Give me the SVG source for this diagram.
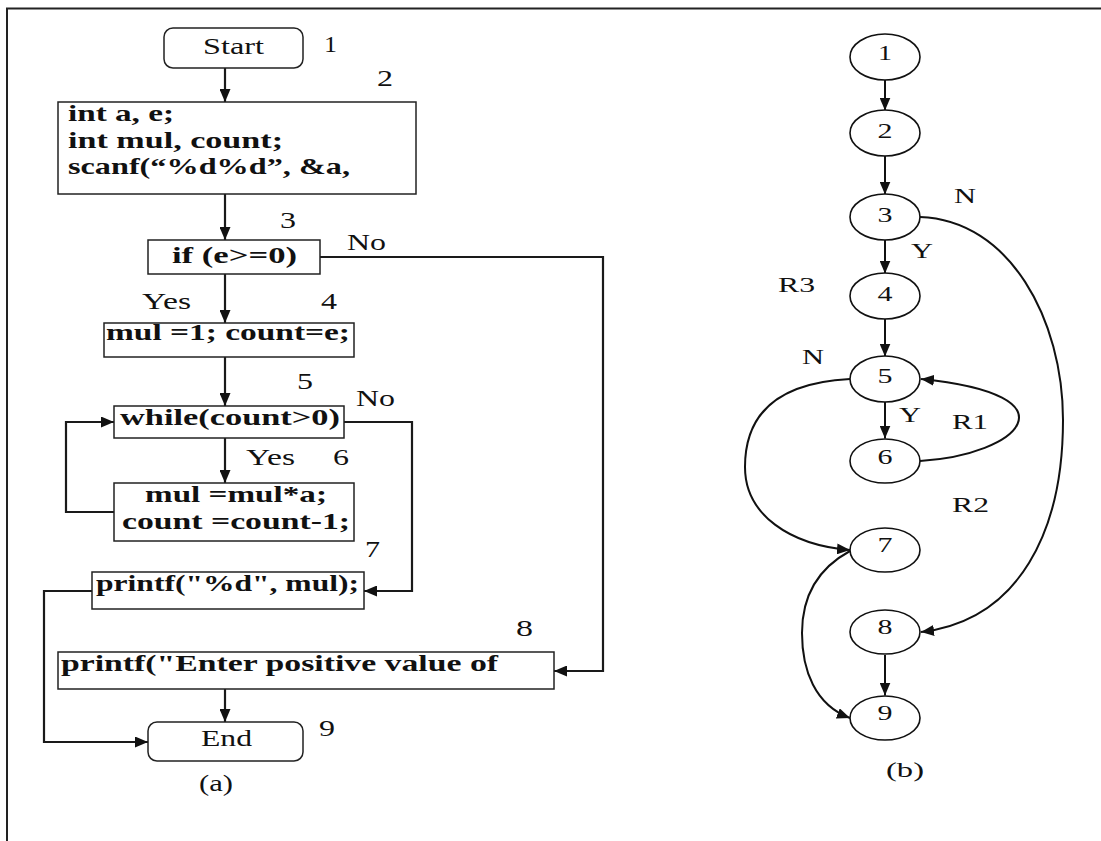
<svg xmlns="http://www.w3.org/2000/svg" width="1101" height="841" viewBox="0 0 1101 841">
<defs>
<style>
.bx{fill:#fff;stroke:#222;stroke-width:1.5}
.el{fill:#fff;stroke:#111;stroke-width:1.6}
.ln{fill:none;stroke:#1a1a1a;stroke-width:2.2}
.cv{fill:none;stroke:#111;stroke-width:2}
.t{font-family:"Liberation Serif","Times New Roman",serif;font-size:22.5px;fill:#111}
.b{font-family:"Liberation Serif","Times New Roman",serif;font-size:24px;font-weight:bold;fill:#111}
.n{font-family:"Liberation Serif","Times New Roman",serif;font-size:22px;fill:#111}
.s{font-family:"Liberation Serif","Times New Roman",serif;font-size:20px;fill:#111}
</style>
<marker id="ah" viewBox="0 0 13 11" refX="13" refY="5.5" markerWidth="13" markerHeight="11" markerUnits="userSpaceOnUse" orient="auto">
<path d="M0,0 L13,5.5 L0,11 z" fill="#111"/>
</marker>
</defs>
<rect width="1101" height="841" fill="#fff"/>
<g id="frame">
<path d="M7,841 V8.5 H1101" fill="none" stroke="#222" stroke-width="2"/>
</g>

<g id="connectors-a">
<path class="ln" d="M225,68 V102" marker-end="url(#ah)"/>
<path class="ln" d="M225,194 V240" marker-end="url(#ah)"/>
<path class="ln" d="M225,274 V323" marker-end="url(#ah)"/>
<path class="ln" d="M320,257 H603 V671 H554" marker-end="url(#ah)"/>
<path class="ln" d="M225,357 V406" marker-end="url(#ah)"/>
<path class="ln" d="M225,438 V483" marker-end="url(#ah)"/>
<path class="ln" d="M344,422 H412 V591 H364" marker-end="url(#ah)"/>
<path class="ln" d="M114,512 H66 V422 H114" marker-end="url(#ah)"/>
<path class="ln" d="M92,591 H44 V742 H148" marker-end="url(#ah)"/>
<path class="ln" d="M225,689 V722" marker-end="url(#ah)"/>
</g>

<g id="node-start">
<rect class="bx" x="164" y="28" width="139" height="40" rx="9"/>
<text class="t" x="203" y="54" textLength="61" lengthAdjust="spacingAndGlyphs">Start</text>
<text class="t" x="324" y="52" textLength="13" lengthAdjust="spacingAndGlyphs">1</text>
</g>
<g id="node-2">
<rect class="bx" x="58" y="102" width="358" height="92"/>
<text class="t" x="377" y="86" textLength="16" lengthAdjust="spacingAndGlyphs">2</text>
<text class="b" x="68" y="121" textLength="106" lengthAdjust="spacingAndGlyphs">int a, e;</text>
<text class="b" x="68" y="148" textLength="215" lengthAdjust="spacingAndGlyphs">int mul, count;</text>
<text class="b" x="68" y="174" textLength="282" lengthAdjust="spacingAndGlyphs">scanf(“%d%d”, &amp;a,</text>
</g>
<g id="node-3">
<rect class="bx" x="148" y="240" width="172" height="34"/>
<text class="t" x="280" y="228" textLength="16" lengthAdjust="spacingAndGlyphs">3</text>
<text class="b" x="172" y="263" textLength="125" lengthAdjust="spacingAndGlyphs">if (e&gt;=0)</text>
<text class="t" x="347" y="250" textLength="39" lengthAdjust="spacingAndGlyphs">No</text>
<text class="t" x="142" y="309" textLength="49" lengthAdjust="spacingAndGlyphs">Yes</text>
</g>
<g id="node-4">
<rect class="bx" x="104" y="323" width="250" height="34"/>
<text class="t" x="321" y="309" textLength="16" lengthAdjust="spacingAndGlyphs">4</text>
<text class="b" x="106" y="340" textLength="244" lengthAdjust="spacingAndGlyphs">mul =1; count=e;</text>
</g>
<g id="node-5">
<rect class="bx" x="114" y="406" width="230" height="32"/>
<text class="t" x="297" y="389" textLength="16" lengthAdjust="spacingAndGlyphs">5</text>
<text class="b" x="120" y="425" textLength="220" lengthAdjust="spacingAndGlyphs">while(count&gt;0)</text>
<text class="t" x="356" y="406" textLength="39" lengthAdjust="spacingAndGlyphs">No</text>
<text class="t" x="246" y="465" textLength="49" lengthAdjust="spacingAndGlyphs">Yes</text>
</g>
<g id="node-6">
<rect class="bx" x="114" y="483" width="240" height="58"/>
<text class="t" x="333" y="465" textLength="16" lengthAdjust="spacingAndGlyphs">6</text>
<text class="b" x="145" y="502" textLength="182" lengthAdjust="spacingAndGlyphs">mul =mul*a;</text>
<text class="b" x="122" y="529" textLength="228" lengthAdjust="spacingAndGlyphs">count =count-1;</text>
</g>
<g id="node-7">
<rect class="bx" x="92" y="572" width="272" height="37"/>
<text class="t" x="365" y="557" textLength="15" lengthAdjust="spacingAndGlyphs">7</text>
<text class="b" x="96" y="591" textLength="263" lengthAdjust="spacingAndGlyphs">printf("%d", mul);</text>
</g>
<g id="node-8">
<rect class="bx" x="58" y="652" width="496" height="37"/>
<text class="t" x="516" y="636" textLength="17" lengthAdjust="spacingAndGlyphs">8</text>
<text class="b" x="61" y="671" textLength="437" lengthAdjust="spacingAndGlyphs">printf("Enter positive value of</text>
</g>
<g id="node-end">
<rect class="bx" x="148" y="722" width="155" height="39" rx="9"/>
<text class="t" x="201" y="746" textLength="51" lengthAdjust="spacingAndGlyphs">End</text>
<text class="t" x="319" y="736" textLength="16" lengthAdjust="spacingAndGlyphs">9</text>
</g>
<text class="t" x="199" y="791" textLength="34" lengthAdjust="spacingAndGlyphs">(a)</text>

<g id="connectors-b">
<path class="cv" d="M885,80 V110.5" marker-end="url(#ah)"/>
<path class="cv" d="M885,156 V194.5" marker-end="url(#ah)"/>
<path class="cv" d="M885,240 V273.5" marker-end="url(#ah)"/>
<path class="cv" d="M885,319 V356.5" marker-end="url(#ah)"/>
<path class="cv" d="M885,402 V438.5" marker-end="url(#ah)"/>
<path class="cv" d="M885,655 V695.5" marker-end="url(#ah)"/>
<path class="cv" d="M920,217 C1010,220 1063,320 1063,420 C1063,530 1020,620 921,632" marker-end="url(#ah)"/>
<path class="cv" d="M850,379 C770,383 745,420 745,467 C745,515 790,545 850,550" marker-end="url(#ah)"/>
<path class="cv" d="M850,551 C815,570 802,600 802,633 C802,670 815,705 850,718" marker-end="url(#ah)"/>
<path class="cv" d="M920,461 C1020,455 1080,395 921,379" marker-end="url(#ah)"/>
</g>

<g id="g1"><ellipse class="el" cx="885" cy="57" rx="35" ry="23"/><text class="n" x="885" y="60" text-anchor="middle" textLength="14" lengthAdjust="spacingAndGlyphs">1</text></g>
<g id="g2"><ellipse class="el" cx="885" cy="133" rx="35" ry="23"/><text class="n" x="885" y="138" text-anchor="middle" textLength="15" lengthAdjust="spacingAndGlyphs">2</text></g>
<g id="g3"><ellipse class="el" cx="885" cy="217" rx="35" ry="23"/><text class="n" x="885" y="222" text-anchor="middle" textLength="15" lengthAdjust="spacingAndGlyphs">3</text></g>
<g id="g4"><ellipse class="el" cx="885" cy="296" rx="35" ry="23"/><text class="n" x="885" y="301" text-anchor="middle" textLength="15" lengthAdjust="spacingAndGlyphs">4</text></g>
<g id="g5"><ellipse class="el" cx="885" cy="379" rx="35" ry="23"/><text class="n" x="885" y="383" text-anchor="middle" textLength="15" lengthAdjust="spacingAndGlyphs">5</text></g>
<g id="g6"><ellipse class="el" cx="885" cy="461" rx="35" ry="22"/><text class="n" x="885" y="464" text-anchor="middle" textLength="15" lengthAdjust="spacingAndGlyphs">6</text></g>
<g id="g7"><ellipse class="el" cx="885" cy="550" rx="35" ry="22"/><text class="n" x="885" y="552" text-anchor="middle" textLength="15" lengthAdjust="spacingAndGlyphs">7</text></g>
<g id="g8"><ellipse class="el" cx="885" cy="632" rx="35" ry="22"/><text class="n" x="885" y="634" text-anchor="middle" textLength="15" lengthAdjust="spacingAndGlyphs">8</text></g>
<g id="g9"><ellipse class="el" cx="885" cy="718" rx="35" ry="22"/><text class="n" x="885" y="720" text-anchor="middle" textLength="15" lengthAdjust="spacingAndGlyphs">9</text></g>

<g id="labels-b">
<text class="s" x="954" y="203" textLength="22" lengthAdjust="spacingAndGlyphs">N</text>
<text class="s" x="911" y="258" textLength="22" lengthAdjust="spacingAndGlyphs">Y</text>
<text class="s" x="778" y="292" textLength="37" lengthAdjust="spacingAndGlyphs">R3</text>
<text class="s" x="802" y="364" textLength="22" lengthAdjust="spacingAndGlyphs">N</text>
<text class="s" x="899" y="422" textLength="22" lengthAdjust="spacingAndGlyphs">Y</text>
<text class="s" x="952" y="429" textLength="36" lengthAdjust="spacingAndGlyphs">R1</text>
<text class="s" x="952" y="512" textLength="37" lengthAdjust="spacingAndGlyphs">R2</text>
<text class="s" x="886" y="777" textLength="38" lengthAdjust="spacingAndGlyphs">(b)</text>
</g>
</svg>
